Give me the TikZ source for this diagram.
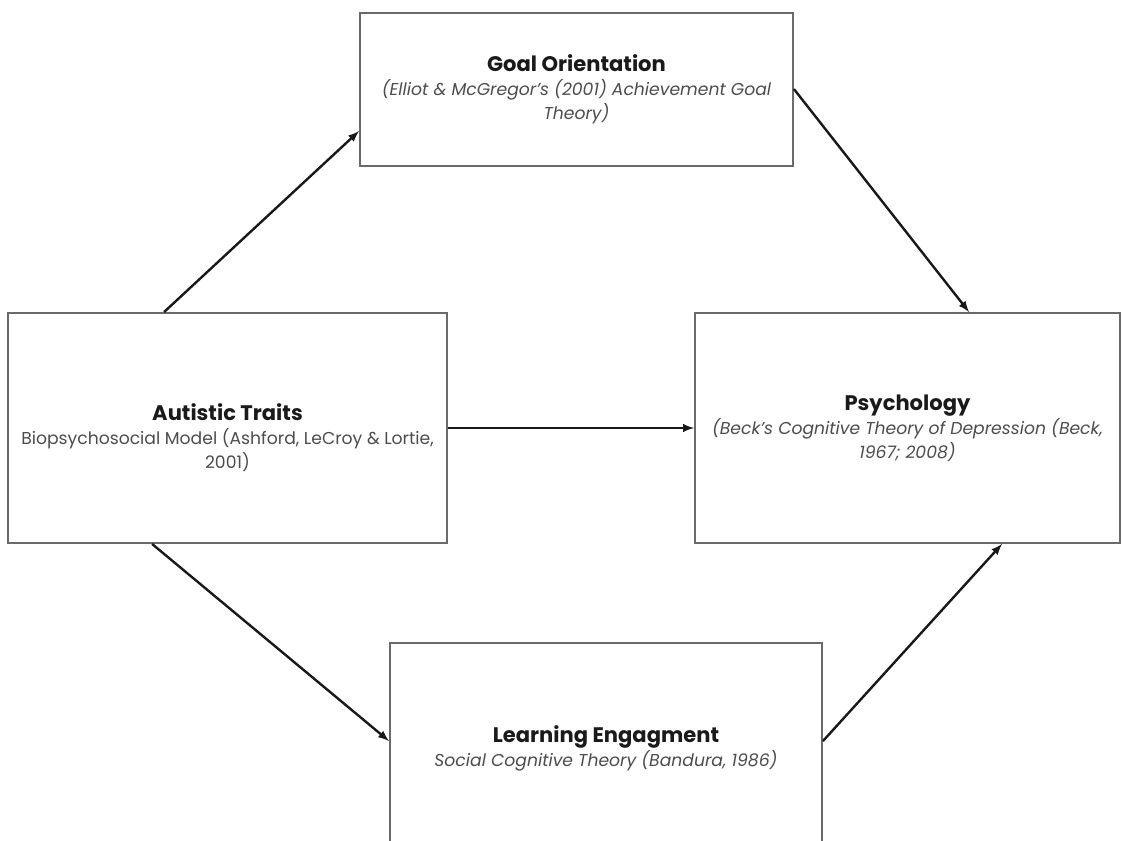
\documentclass[tikz,border=0pt]{standalone}
\usepackage{fontspec}
\setmainfont{Poppins}
\usetikzlibrary{positioning,calc}
\definecolor{boxgray}{HTML}{6A6A6A}
\definecolor{subgray}{HTML}{4D4D4D}
\definecolor{headblack}{HTML}{1A1A1A}
\newcommand{\boxhead}{\fontsize{15.8}{18}\selectfont\bfseries\color{headblack}}
\newcommand{\boxsub}{\fontsize{12.9}{18}\selectfont\color{subgray}}

\begin{document}
\begin{tikzpicture}[x=0.75pt, y=-0.75pt,
    framebox/.style={draw=boxgray, line width=1.4pt, fill=white, inner sep=0pt},
    boxtext/.style={align=center, inner sep=0pt, font=\fontsize{12.9}{18}\selectfont},
    flow/.style={-latex, draw=black!90, line width=1.8pt}]
  \useasboundingbox[fill=white] (0,0) rectangle (1122,841);

  % boxes
  \node[framebox, minimum width=324.75pt, minimum height=114.75pt] (goal) at (576.5,89.5) {};
  \node[framebox, minimum width=329.25pt, minimum height=172.5pt] (aut) at (227.5,428) {};
  \node[framebox, minimum width=318.75pt, minimum height=172.5pt] (psy) at (907.5,428) {};
  \node[framebox, minimum width=324pt, minimum height=155.25pt] (learn) at (606,746.5) {};

  % texts
  \node[boxtext] (goaltext) at (goal.center)
    {{\boxhead Goal Orientation}\\
     {\boxsub\itshape (Elliot \& McGregor's (2001) Achievement Goal}\\
     {\boxsub\itshape Theory)}};
  \node[boxtext] (auttext) at ($(aut.center)+(0,10)$)
    {{\boxhead Autistic Traits}\\
     {\boxsub Biopsychosocial Model (Ashford, LeCroy \& Lortie,}\\
     {\boxsub 2001)}};
  \node[boxtext] (psytext) at (psy.center)
    {{\boxhead Psychology}\\
     {\boxsub\itshape (Beck's Cognitive Theory of Depression (Beck,}\\
     {\boxsub\itshape 1967; 2008)}};
  \node[boxtext] (learntext) at ($(learn.north)+(0,106)$)
    {{\boxhead Learning Engagment}\\
     {\boxsub\itshape Social Cognitive Theory (Bandura, 1986)}};

  % arrows
  \draw[flow] ($(aut.north west)+(157,0)$) -- ($(goal.north west)+(0,119)$);
  \draw[flow] ($(goal.north east)+(0,77)$) -- ($(psy.north west)+(275,0)$);
  \draw[flow] (aut.east) -- (psy.west);
  \draw[flow] ($(aut.south west)+(145,0)$) -- ($(learn.north west)+(0,99)$);
  \draw[flow] ($(learn.north east)+(0,99)$) -- ($(psy.south west)+(308,0)$);
\end{tikzpicture}
\end{document}
